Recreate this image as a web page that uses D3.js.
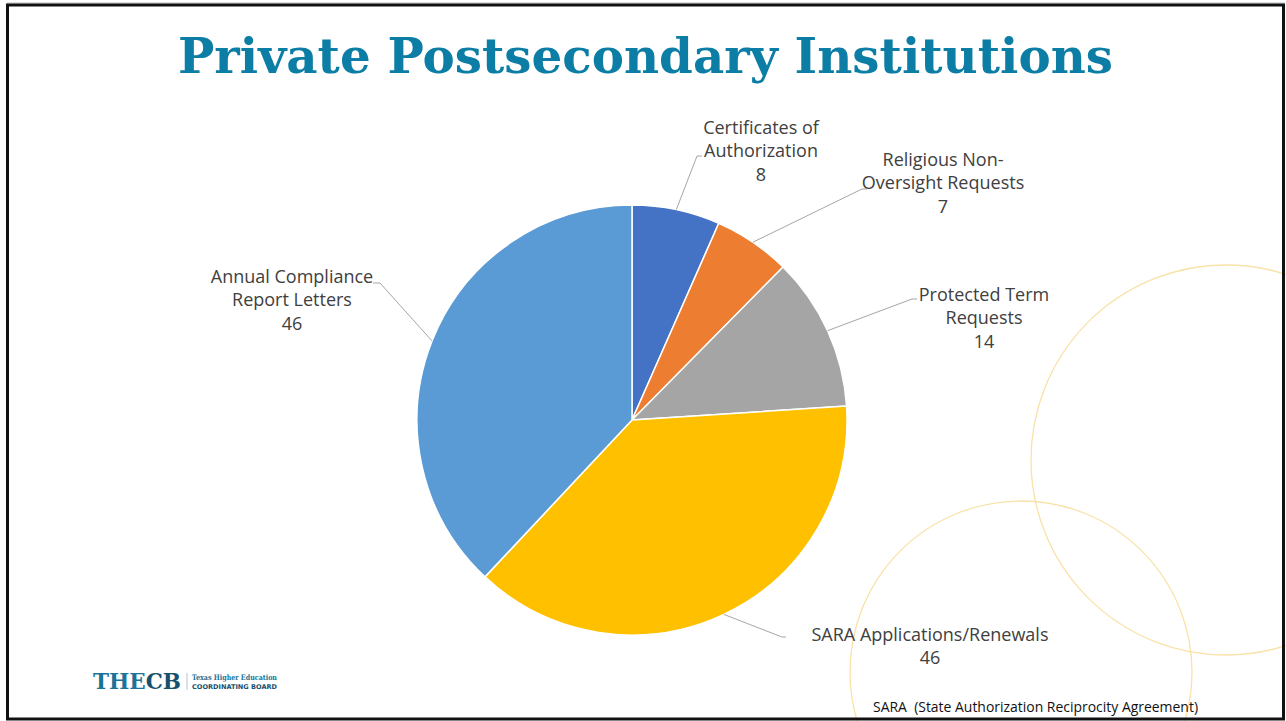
<!DOCTYPE html>
<html>
<head>
<meta charset="utf-8">
<script src="https://cdn.jsdelivr.net/npm/d3@7"></script>
<style>
  html, body { margin: 0; padding: 0; background: #fff; }
  svg { display: block; }
  text { white-space: pre; }
</style>
</head>
<body>
<svg id="chart" width="1286" height="721"></svg>
<script>
// ---- data ----
const categories = [
  "Certificates of Authorization",
  "Religious Non-Oversight Requests",
  "Protected Term Requests",
  "SARA Applications/Renewals",
  "Annual Compliance Report Letters"
];
const values = [8, 7, 14, 46, 46];
const labelLines = [
  ["Certificates of", "Authorization"],
  ["Religious Non-", "Oversight Requests"],
  ["Protected Term", "Requests"],
  ["SARA Applications/Renewals"],
  ["Annual Compliance", "Report Letters"]
];
const colors = ["#4472C4", "#ED7D31", "#A5A5A5", "#FFC000", "#5B9BD5"];
const titleText = "Private Postsecondary Institutions";
const footnoteText = "SARA  (State Authorization Reciprocity Agreement)";

// ---- layout (positions, not data) ----
const cx = 632, cy = 420, R = 215;
const labelLayout = [
  { x: 761, y: 134, elbow: [697, 156], end: [702, 156] },
  { x: 943, y: 166, elbow: [862, 189], end: [867, 189] },
  { x: 984, y: 301, elbow: [912, 299], end: [917, 299] },
  { x: 930, y: 641, elbow: [782, 637], end: [786, 637] },
  { x: 292, y: 283, elbow: [380, 283], end: [373, 283] }
];

const svg = d3.select("#chart");

// decorative circles
const deco = svg.append("g");
deco.append("circle").attr("cx", 1226).attr("cy", 460).attr("r", 195)
  .attr("fill", "none").attr("stroke", "#F8E2A8").attr("stroke-width", 1.3);
deco.append("circle").attr("cx", 1021).attr("cy", 672).attr("r", 171)
  .attr("fill", "none").attr("stroke", "#F8E2A8").attr("stroke-width", 1.3);

// title
svg.append("text")
  .attr("x", 178).attr("y", 73)
  .attr("textLength", 935).attr("lengthAdjust", "spacingAndGlyphs")
  .attr("font-family", "'DejaVu Serif', 'Liberation Serif', serif")
  .attr("font-weight", "bold").attr("font-size", 49)
  .attr("fill", "#0C7EA5")
  .text(titleText);

// pie
const pie = d3.pie().sort(null).value(d => d)
  .startAngle(0).endAngle(2 * Math.PI);
const arcs = pie(values);
const arc = d3.arc().innerRadius(0).outerRadius(R);

const g = svg.append("g").attr("transform", `translate(${cx},${cy})`);
g.selectAll("path.slice").data(arcs).join("path")
  .attr("class", "slice")
  .attr("d", arc)
  .attr("fill", (d, i) => colors[i])
  .attr("stroke", "#fff").attr("stroke-width", 1.5);

// leader lines
arcs.forEach((d, i) => {
  const a = (d.startAngle + d.endAngle) / 2;
  const px = cx + R * Math.sin(a), py = cy - R * Math.cos(a);
  const L = labelLayout[i];
  svg.append("polyline")
    .attr("points", [[px, py], L.elbow, L.end].map(p => p.join(",")).join(" "))
    .attr("fill", "none").attr("stroke", "#A6A6A6").attr("stroke-width", 1);
});

// labels
arcs.forEach((d, i) => {
  const L = labelLayout[i];
  const t = svg.append("text")
    .attr("x", L.x).attr("y", L.y)
    .attr("text-anchor", "middle")
    .attr("font-family", "'Open Sans', 'Noto Sans', sans-serif")
    .attr("font-size", 18)
    .attr("fill", "#404040");
  const lines = labelLines[i].concat([String(values[i])]);
  lines.forEach((ln, j) => {
    t.append("tspan").attr("x", L.x).attr("dy", j === 0 ? 0 : 23.3).text(ln);
  });
});

// footnote
svg.append("text")
  .attr("x", 873).attr("y", 712)
  .attr("textLength", 325).attr("lengthAdjust", "spacingAndGlyphs")
  .attr("font-family", "'Open Sans', 'Noto Sans', sans-serif")
  .attr("font-size", 14).attr("fill", "#111")
  .text(footnoteText);

// logo
const logo = svg.append("g");
const lt = logo.append("text")
  .attr("x", 93).attr("y", 689)
  .attr("textLength", 88).attr("lengthAdjust", "spacingAndGlyphs")
  .attr("font-family", "'DejaVu Serif', serif").attr("font-weight", "bold")
  .attr("font-size", 22);
lt.append("tspan").attr("fill", "#1B7497").text("THE");
lt.append("tspan").attr("fill", "#17506F").text("CB");
logo.append("line").attr("x1", 187).attr("x2", 187).attr("y1", 673).attr("y2", 690)
  .attr("stroke", "#9DB6C4").attr("stroke-width", 0.8);
logo.append("text").attr("x", 192).attr("y", 680)
  .attr("textLength", 85).attr("lengthAdjust", "spacingAndGlyphs")
  .attr("font-family", "'DejaVu Serif', serif").attr("font-weight", "bold")
  .attr("font-size", 7.5).attr("fill", "#1B7497").text("Texas Higher Education");
logo.append("text").attr("x", 192).attr("y", 688.5)
  .attr("textLength", 85).attr("lengthAdjust", "spacingAndGlyphs")
  .attr("font-family", "'DejaVu Sans', sans-serif").attr("font-weight", "bold")
  .attr("font-size", 6.5).attr("fill", "#17506F").text("COORDINATING BOARD");

// frame
svg.append("line").attr("x1", 7).attr("x2", 1285).attr("y1", 3).attr("y2", 3)
  .attr("stroke", "#BDBDBD").attr("stroke-width", 1);
svg.append("rect").attr("x", 7.5).attr("y", 5).attr("width", 1276).attr("height", 714)
  .attr("fill", "none").attr("stroke", "#111").attr("stroke-width", 3);
</script>
</body>
</html>
